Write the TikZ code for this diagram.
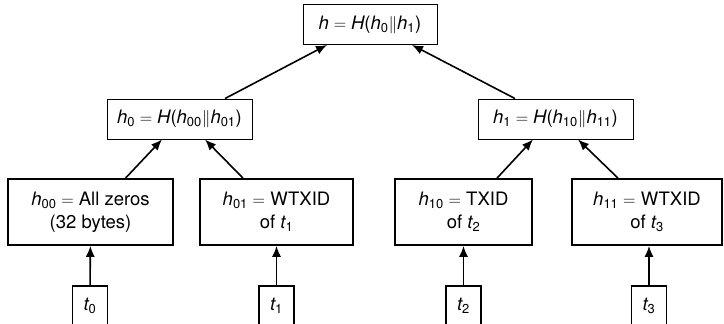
\documentclass[tikz,border=0pt]{standalone}
\usepackage{amsmath}
\usepackage{fontspec}
\setmainfont{TeX Gyre Heros}
\usetikzlibrary{arrows.meta}
% sans italic variables with upright sans indices
\newcommand{\vr}[1]{\text{\itshape #1}}
\newcommand{\ix}[2]{\vr{#1}_{\text{#2}}}
\newcommand{\lp}{\text{(}}
\newcommand{\rp}{\text{)}}
\begin{document}
\begin{tikzpicture}[x=1pt,y=-1pt,
  every node/.style={font=\fontsize{18.5}{23}\selectfont, align=center, inner sep=0pt},
  hashbox/.style={draw, line width=0.9pt, minimum height=40pt},
  leafbox/.style={draw, line width=1.7pt, minimum height=66pt},
  txbox/.style={draw, line width=1.7pt, minimum width=35pt, minimum height=40pt},
  link/.style={line width=1.6pt, -{Latex[length=11pt,width=9pt]}}]
\useasboundingbox (0,0) rectangle (724,324);

% root and inner hashes
\node[hashbox, minimum width=134pt] (root) at (370,24.5) {$\vr{h}=\vr{H}\lp\ix{h}{0}\Vert \ix{h}{1}\rp$};
\node[hashbox, minimum width=145pt] (h0) at (179.5,119) {$\ix{h}{0}=\vr{H}\lp\ix{h}{00}\Vert \ix{h}{01}\rp$};
\node[hashbox, minimum width=155pt] (h1) at (555.5,119) {$\ix{h}{1}=\vr{H}\lp\ix{h}{10}\Vert \ix{h}{11}\rp$};

% leaf hashes
\node[leafbox, minimum width=165pt] (h00) at (90.5,212) {$\ix{h}{00}=$ All zeros\\(32 bytes)};
\node[leafbox, minimum width=153pt] (h01) at (276.5,212) {$\ix{h}{01}=$ WTXID\\of $\ix{t}{1}$};
\node[leafbox, minimum width=137pt] (h10) at (463.5,212) {$\ix{h}{10}=$ TXID\\of $\ix{t}{2}$};
\node[leafbox, minimum width=150pt] (h11) at (647,212) {$\ix{h}{11}=$ WTXID\\of $\ix{t}{3}$};

% transactions
\node[txbox] (t0) at (90,306) {$\ix{t}{0}$};
\node[txbox] (t1) at (276.5,306) {$\ix{t}{1}$};
\node[txbox] (t2) at (463.5,306) {$\ix{t}{2}$};
\node[txbox] (t3) at (649,306) {$\ix{t}{3}$};

% connectors
\draw[link] ([xshift=45.5pt]h0.north) -- ([xshift=-43pt]root.south);
\draw[link] ([xshift=-40.5pt]h1.north) -- ([xshift=42pt]root.south);
\draw[link] ([xshift=35pt]h00.north) -- ([xshift=-17.5pt]h0.south);
\draw[link] ([xshift=-33.5pt]h01.north) -- ([xshift=25.5pt]h0.south);
\draw[link] ([xshift=33.5pt]h10.north) -- ([xshift=-22.5pt]h1.south);
\draw[link] ([xshift=-29pt]h11.north) -- ([xshift=22.5pt]h1.south);
\draw[link] (t0) -- (h00);
\draw[link] (t1) -- (h01);
\draw[link] (t2) -- (h10);
\draw[link] (t3) -- (t3 |- h11.south);
\end{tikzpicture}
\end{document}
